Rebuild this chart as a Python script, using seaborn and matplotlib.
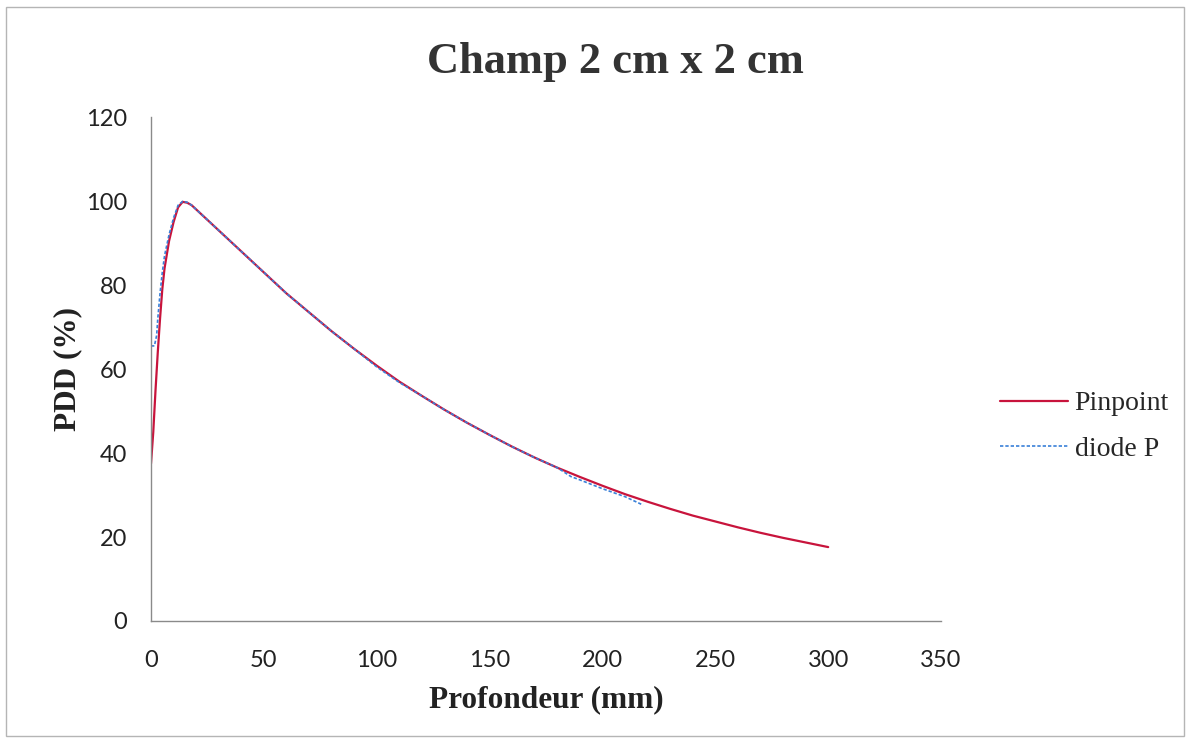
import numpy as np
import matplotlib
matplotlib.use("Agg")
import matplotlib.pyplot as plt
import seaborn as sns
import pandas as pd
from matplotlib.patches import Rectangle

# depth (mm) and PDD (%)
pinpoint_depth = [0, 1, 2, 3, 4, 5, 6, 8, 10, 12, 14, 16, 18, 20, 25, 30, 35, 40,
                  50, 60, 70, 80, 90, 100, 110, 120, 130, 140, 150, 160, 170, 180,
                  190, 200, 210, 220, 230, 240, 250, 260, 270, 280, 290, 300]
pinpoint_pdd = [37.5, 45, 55, 64, 72, 79, 84, 90.5, 95, 98.5, 99.8, 99.6, 99, 98,
                95.5, 93, 90.5, 88, 83, 78, 73.5, 69, 64.8, 60.8, 57, 53.6, 50.3,
                47.2, 44.3, 41.5, 38.9, 36.5, 34.3, 32.2, 30.2, 28.4, 26.7, 25.1,
                23.7, 22.3, 21, 19.8, 18.7, 17.6]

diode_depth = [0, 1, 1.5, 2.5, 3, 4, 5, 6, 8, 10, 12, 14, 16, 18, 20, 25, 30, 35,
               40, 50, 60, 70, 80, 90, 100, 110, 120, 130, 140, 150, 160, 170, 180,
               186, 190, 200, 210, 218]
diode_pdd = [65.5, 65.5, 65.5, 68, 72, 78, 83, 87, 92, 96, 99, 99.9, 99.7, 99,
             98, 95.5, 93, 90.5, 88, 83, 78, 73.5, 69, 64.8, 60.5, 56.8, 53.6,
             50.3, 47.2, 44.3, 41.5, 38.9, 36.5, 34.4, 33.6, 31.5, 29.6, 27.6]

pin = pd.DataFrame({"depth": pinpoint_depth, "pdd": pinpoint_pdd})
dio = pd.DataFrame({"depth": diode_depth, "pdd": diode_pdd})

sns.set_style("white")
plt.rcParams["font.family"] = ["Lato", "DejaVu Sans"]

fig = plt.figure(figsize=(11.9, 7.43), dpi=100)
ax = fig.add_axes([0.1269, 0.1642, 0.6639, 0.6783])

sns.lineplot(data=pin, x="depth", y="pdd", ax=ax, color="#c8143c", lw=1.6,
             label="Pinpoint", sort=False)
sns.lineplot(data=dio, x="depth", y="pdd", ax=ax, color="#3a80d8", lw=1.2,
             linestyle=(0, (2, 1.2)), label="diode P", sort=False)

ax.set_xlim(0, 350)
ax.set_ylim(0, 120)
ax.set_xticks(range(0, 351, 50))
ax.set_yticks(range(0, 121, 20))
ax.tick_params(axis="y", length=0, labelsize=17, pad=17, colors="#222222")
ax.tick_params(axis="x", length=0, labelsize=17, pad=21, colors="#222222")
for s in ["top", "right"]:
    ax.spines[s].set_visible(False)
for s in ["left", "bottom"]:
    ax.spines[s].set_color("#8a8a8a")
    ax.spines[s].set_linewidth(1.0)

ax.set_xlabel("Profondeur (mm)", fontsize=22.5, fontweight="bold",
              family="Liberation Serif", labelpad=10, color="#222222")
ax.set_ylabel("PDD (%)", fontsize=22.5, fontweight="bold",
              family="Liberation Serif", labelpad=3, color="#222222")

fig.text(0.517, 0.916, "Champ 2 cm x 2 cm", ha="center", va="center",
         fontsize=32, fontweight="bold", family="Liberation Serif", color="#333333")

ax.legend(loc="center left", bbox_to_anchor=(0.819, 0.426), bbox_transform=fig.transFigure,
          frameon=False, prop={"family": "Liberation Serif", "size": 20},
          handlelength=2.45, labelspacing=0.72, handletextpad=0.25)

fig.patches.append(Rectangle((0.005, 0.01), 0.99, 0.98, transform=fig.transFigure,
                             fill=False, edgecolor="#b5b5b5", lw=1.0))

plt.savefig("out.png", dpi=100)
